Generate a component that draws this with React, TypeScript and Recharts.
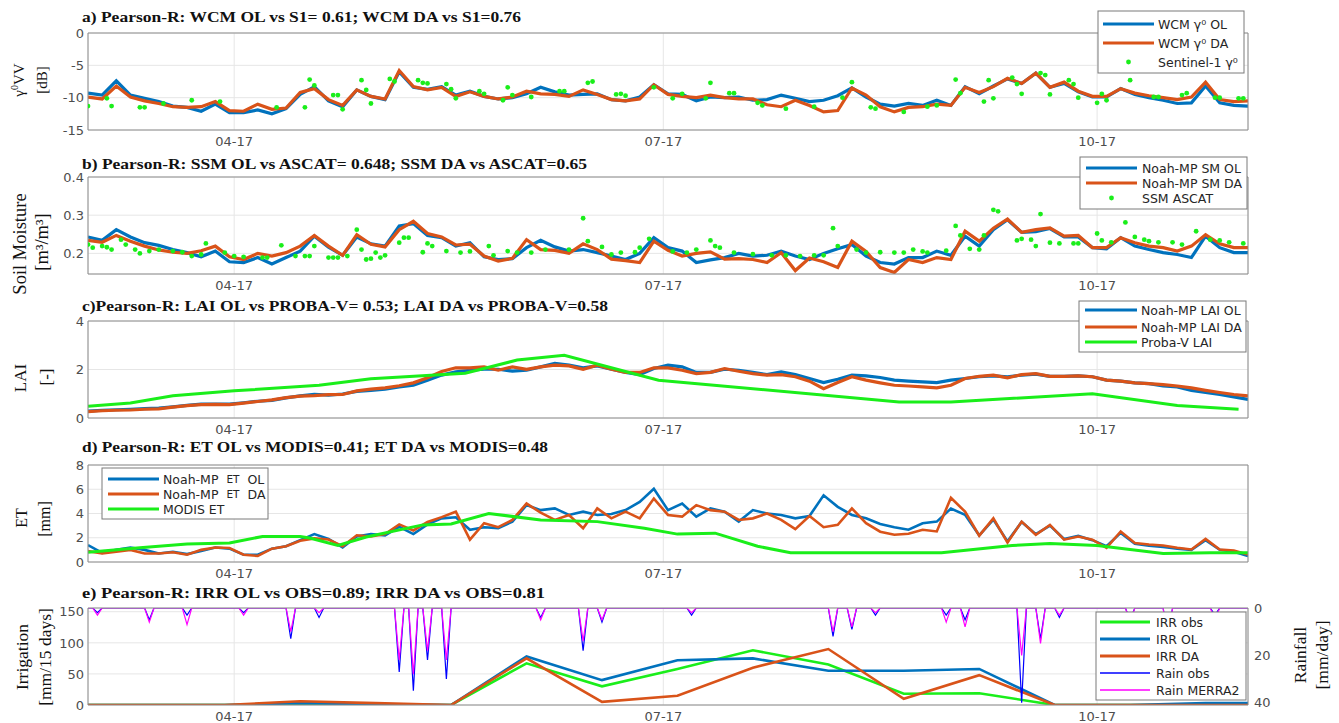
import React from 'react';
import { ComposedChart, Line, Scatter, XAxis, YAxis, CartesianGrid } from 'recharts';

// x = day of year 2017, sampled every 3 days (Mar 1 .. Nov 2)
const days = [
  60, 63, 66, 69, 72, 75, 78, 81, 84, 87, 90, 93, 96, 99, 102, 105, 108, 111, 114, 117, 120, 123, 126, 129, 132, 135,
  138, 141, 144, 147, 150, 153, 156, 159, 162, 165, 168, 171, 174, 177, 180, 183, 186, 189, 192, 195, 198, 201, 204, 207, 210, 213, 216, 219, 222, 225, 228,
  231, 234, 237, 240, 243, 246, 249, 252, 255, 258, 261, 264, 267, 270, 273, 276, 279, 282, 285, 288, 291, 294, 297, 300, 303, 306,
];

// a) backscatter [dB]
const wcmOL = [
  -9.3, -9.6, -7.4, -9.6, -10.1, -10.6, -11.3, -11.5, -12.1, -11.0, -12.3, -12.3, -11.9, -12.5, -11.7, -9.5, -8.3, -10.5, -11.4, -8.8, -9.8, -10.3, -6.0, -8.4, -8.7, -8.3,
  -9.6, -9.0, -9.8, -10.2, -10.0, -9.4, -8.4, -9.1, -9.6, -9.5, -9.4, -10.3, -10.5, -9.9, -8.0, -9.4, -9.5, -10.5, -9.9, -10.0, -9.9, -10.4, -10.3, -9.6, -10.1, -10.6, -10.4, -9.7, -8.5, -9.9, -11.0,
  -11.3, -10.9, -11.2, -10.4, -11.2, -8.3, -9.4, -8.2, -7.1, -7.8, -6.2, -8.4, -7.8, -9.1, -9.9, -9.9, -8.6, -9.5, -10.0, -10.4, -10.9, -10.8, -8.2, -10.8, -11.2, -11.3,
];
const wcmDA = [
  -9.9, -10.2, -8.2, -9.9, -10.5, -10.9, -11.4, -11.5, -11.4, -10.6, -12.0, -12.1, -11.0, -11.8, -11.6, -9.2, -8.6, -10.3, -11.2, -8.8, -9.8, -10.2, -5.8, -8.3, -8.8, -8.4,
  -9.8, -9.1, -9.8, -10.2, -9.9, -9.0, -9.4, -9.5, -9.8, -8.8, -9.5, -10.3, -10.5, -10.2, -8.0, -9.5, -9.8, -10.0, -9.6, -10.0, -10.2, -10.2, -11.1, -11.4, -10.4, -11.2, -12.2, -12.0, -8.5, -9.6, -11.4,
  -12.2, -11.5, -11.4, -11.0, -11.2, -8.4, -9.2, -8.3, -7.0, -7.8, -6.2, -8.4, -7.6, -9.0, -9.8, -9.8, -8.6, -9.3, -9.7, -10.0, -10.3, -9.9, -7.6, -10.3, -10.6, -10.5,
];
const s1Obs = [
  [60, -11.3], [64, -10.1], [65, -11.3], [71, -11.5], [72, -11.5], [76, -10.9], [82, -10.4], [88, -10.6], [100, -11.5], [106, -11.5],
  [107, -7.2], [108, -8.1], [112, -9.6], [113, -9.6], [114, -11.8], [118, -7.3], [119, -8.8], [120, -10.9], [124, -7.1], [125, -7.5],
  [130, -7.3], [131, -7.7], [132, -7.8], [136, -7.9], [137, -8.7], [138, -10.1], [143, -9.0], [144, -9.4], [148, -10.4], [149, -8.4],
  [150, -9.6], [154, -9.9], [160, -9.0], [161, -9.0], [166, -7.7], [167, -7.5], [172, -9.5], [173, -9.4], [174, -9.7], [180, -8.4],
  [184, -10.1], [186, -9.4], [191, -10.1], [192, -7.7], [196, -9.3], [197, -9.3], [202, -10.8], [203, -11.2], [208, -11.7], [214, -11.4],
  [220, -10.0], [222, -7.6], [226, -11.5], [227, -11.7], [233, -12.2], [238, -11.4], [240, -11.2], [244, -7.2], [245, -9.3], [250, -10.6],
  [251, -7.3], [252, -10.1], [256, -6.9], [257, -7.9], [258, -9.4], [262, -6.2], [263, -6.5], [264, -9.5], [268, -7.3], [269, -7.9],
  [270, -10.0], [274, -10.8], [275, -9.4], [276, -10.4], [281, -7.3], [286, -9.9], [287, -9.9], [292, -9.6], [293, -9.3], [299, -10.0],
  [300, -10.0], [304, -10.1], [305, -10.1],
];

// b) surface soil moisture [m3/m3]
const ssmOL = [
  0.243, 0.234, 0.262, 0.243, 0.228, 0.221, 0.21, 0.202, 0.191, 0.206, 0.178, 0.176, 0.189, 0.172, 0.189, 0.206, 0.245, 0.216, 0.195, 0.243, 0.225, 0.219, 0.272, 0.278, 0.247, 0.241,
  0.219, 0.228, 0.191, 0.184, 0.186, 0.215, 0.234, 0.217, 0.206, 0.21, 0.202, 0.193, 0.184, 0.2, 0.241, 0.215, 0.206, 0.176, 0.183, 0.189, 0.2, 0.193, 0.195, 0.206, 0.193, 0.184, 0.2, 0.212, 0.223, 0.193, 0.176,
  0.172, 0.189, 0.189, 0.206, 0.195, 0.245, 0.219, 0.262, 0.288, 0.255, 0.257, 0.265, 0.243, 0.243, 0.215, 0.212, 0.241, 0.219, 0.21, 0.202, 0.197, 0.189, 0.245, 0.215, 0.202, 0.202,
];
const ssmDA = [
  0.234, 0.229, 0.247, 0.232, 0.219, 0.209, 0.203, 0.2, 0.207, 0.219, 0.191, 0.184, 0.2, 0.193, 0.202, 0.219, 0.247, 0.219, 0.195, 0.249, 0.224, 0.217, 0.262, 0.284, 0.252, 0.243,
  0.222, 0.224, 0.193, 0.18, 0.187, 0.236, 0.21, 0.208, 0.2, 0.225, 0.21, 0.185, 0.181, 0.176, 0.232, 0.208, 0.193, 0.2, 0.204, 0.185, 0.186, 0.184, 0.176, 0.202, 0.155, 0.188, 0.178, 0.163, 0.232, 0.205, 0.163,
  0.15, 0.184, 0.176, 0.189, 0.184, 0.258, 0.232, 0.266, 0.29, 0.255, 0.262, 0.267, 0.245, 0.247, 0.215, 0.215, 0.241, 0.228, 0.219, 0.215, 0.206, 0.219, 0.249, 0.225, 0.215, 0.215,
];
const ascatObs = [
  [60, 0.223], [61, 0.215], [63, 0.219], [64, 0.216], [65, 0.21], [67, 0.236], [68, 0.223], [70, 0.21], [71, 0.2], [73, 0.206], [75, 0.21],
  [78, 0.206], [80, 0.203], [82, 0.193], [84, 0.197], [85, 0.226], [89, 0.202], [91, 0.193], [93, 0.191], [97, 0.189], [98, 0.189],
  [101, 0.221], [104, 0.193], [106, 0.193], [107, 0.193], [108, 0.219], [111, 0.189], [112, 0.189], [113, 0.189], [115, 0.193], [117, 0.262],
  [118, 0.21], [119, 0.184], [120, 0.186], [121, 0.202], [122, 0.189], [123, 0.195], [126, 0.228], [127, 0.241], [128, 0.241], [131, 0.203],
  [132, 0.226], [133, 0.219], [136, 0.206], [139, 0.202], [141, 0.205], [145, 0.219], [146, 0.195], [149, 0.206], [151, 0.202], [154, 0.202],
  [157, 0.21], [162, 0.21], [165, 0.292], [166, 0.232], [169, 0.217], [171, 0.197], [173, 0.202], [176, 0.203], [177, 0.215], [179, 0.238],
  [184, 0.205], [187, 0.202], [189, 0.21], [192, 0.234], [193, 0.219], [194, 0.215], [197, 0.202], [201, 0.198], [205, 0.195], [208, 0.195],
  [211, 0.193], [214, 0.195], [216, 0.195], [218, 0.266], [219, 0.219], [223, 0.21], [225, 0.202], [228, 0.203], [231, 0.202], [233, 0.202],
  [235, 0.21], [237, 0.205], [238, 0.202], [242, 0.207], [244, 0.272], [245, 0.247], [247, 0.212], [249, 0.21], [250, 0.247], [252, 0.314],
  [253, 0.31], [257, 0.234], [258, 0.238], [260, 0.236], [261, 0.219], [262, 0.303], [264, 0.228], [266, 0.226], [269, 0.226], [270, 0.226],
  [274, 0.252], [275, 0.234], [277, 0.229], [280, 0.281], [282, 0.243], [284, 0.236], [285, 0.232], [287, 0.229], [290, 0.229], [292, 0.223],
  [295, 0.258], [298, 0.236], [300, 0.234], [302, 0.229], [305, 0.226],
];

// c) LAI
const laiOL = [
  0.28, 0.32, 0.34, 0.36, 0.39, 0.41, 0.46, 0.52, 0.57, 0.57, 0.57, 0.63, 0.69, 0.73, 0.83, 0.91, 0.98, 0.94, 0.99, 1.1, 1.14, 1.19, 1.28, 1.35, 1.56, 1.77,
  1.9, 1.97, 2.01, 2.01, 1.93, 1.97, 2.11, 2.25, 2.18, 2.07, 2.15, 2.01, 1.88, 1.79, 2.04, 2.18, 2.11, 1.88, 1.88, 2.01, 1.97, 1.88, 1.79, 1.9, 1.79, 1.63, 1.46, 1.6, 1.77, 1.74, 1.67,
  1.56, 1.52, 1.49, 1.46, 1.56, 1.63, 1.7, 1.74, 1.7, 1.77, 1.81, 1.72, 1.72, 1.74, 1.7, 1.56, 1.52, 1.45, 1.42, 1.32, 1.28, 1.14, 1.05, 0.97, 0.87, 0.77,
];
const laiDA = [
  0.26, 0.3, 0.32, 0.33, 0.36, 0.38, 0.45, 0.51, 0.55, 0.56, 0.55, 0.61, 0.68, 0.75, 0.84, 0.9, 0.92, 0.96, 0.97, 1.12, 1.19, 1.24, 1.33, 1.45, 1.66, 1.92,
  2.07, 2.07, 2.11, 1.97, 2.11, 2.01, 2.11, 2.18, 2.15, 2.01, 2.18, 2.01, 1.88, 1.88, 2.07, 2.07, 1.97, 1.83, 1.88, 2.04, 1.93, 1.83, 1.77, 1.79, 1.7, 1.52, 1.21, 1.46, 1.7, 1.56, 1.45,
  1.35, 1.32, 1.28, 1.24, 1.35, 1.63, 1.72, 1.77, 1.66, 1.79, 1.83, 1.72, 1.72, 1.74, 1.7, 1.56, 1.52, 1.45, 1.42, 1.38, 1.32, 1.24, 1.14, 1.05, 0.97, 0.91,
];
const probaDays = [60, 69, 78, 91, 109, 120, 140, 151, 161, 181, 232, 243, 273, 291, 304];
const probaLai = [0.48, 0.62, 0.92, 1.12, 1.35, 1.62, 1.85, 2.39, 2.59, 1.56, 0.66, 0.66, 1.0, 0.52, 0.36];

// d) ET [mm]
const etOL = [
  1.4, 0.75, 1.0, 1.2, 1.0, 0.7, 0.85, 0.65, 0.9, 1.2, 1.1, 0.6, 0.6, 1.1, 1.3, 1.8, 2.3, 1.9, 1.2, 2.1, 2.3, 2.2, 2.9, 2.3, 3.1, 3.6,
  3.69, 2.66, 2.87, 2.79, 3.33, 4.69, 4.28, 4.42, 3.88, 4.15, 3.88, 3.96, 4.28, 4.96, 6.04, 4.28, 4.82, 3.74, 4.42, 4.15, 3.33, 4.28, 4.0, 3.88, 3.6, 3.79, 5.5, 4.55, 3.88, 3.6, 3.14,
  2.87, 2.66, 3.2, 3.33, 4.4, 3.9, 2.2, 3.5, 1.7, 3.3, 2.3, 3.0, 1.9, 2.15, 1.8, 1.3, 2.4, 1.5, 1.35, 1.25, 1.1, 1.0, 1.8, 1.0, 0.85, 0.5,
];
const etDA = [
  0.9, 0.7, 0.85, 1.0, 0.7, 0.7, 0.8, 0.6, 1.0, 1.2, 1.15, 0.6, 0.5, 1.1, 1.3, 1.75, 1.95, 1.85, 1.3, 2.2, 2.1, 2.3, 3.1, 2.6, 3.3, 3.7,
  4.15, 1.84, 3.2, 2.87, 3.47, 4.82, 4.07, 3.47, 3.88, 2.79, 4.42, 3.6, 4.15, 3.6, 5.23, 3.88, 3.74, 4.69, 4.28, 4.15, 3.47, 3.6, 4.0, 3.47, 2.71, 3.79, 2.87, 3.06, 4.42, 3.2, 2.5,
  2.25, 2.33, 2.66, 2.52, 5.3, 4.15, 2.17, 3.6, 1.6, 3.33, 2.25, 3.06, 1.84, 2.1, 1.84, 1.17, 2.52, 1.57, 1.44, 1.36, 1.17, 1.03, 1.9, 1.03, 0.95, 0.62,
];
const modisDays = [60, 71, 81, 90, 97, 105, 107, 113, 119, 131, 137, 145, 156, 168, 178, 185, 193, 202, 209, 241, 256, 264, 274, 288, 298, 306];
const modisEt = [0.81, 1.17, 1.49, 1.57, 2.11, 2.11, 1.98, 1.36, 2.06, 3.06, 3.14, 4.0, 3.47, 3.33, 2.79, 2.3, 2.38, 1.3, 0.76, 0.76, 1.36, 1.52, 1.36, 0.7, 0.76, 0.76];

// e) irrigation [mm/15 days] and rainfall [mm/day]
const irrDays = [60, 73, 89, 105, 121, 137, 153, 169, 185, 201, 217, 233, 249, 265, 281, 297, 306];
const irrObs = [0, 0, 0, 0, 0, 0, 67, 30, 58, 88, 65, 18, 19, 0, 0, 0, 0];
const irrOL = [0, 0, 0, 3, 1, 0, 78, 40, 72, 75, 55, 55, 58, 0, 0, 3, 3];
const irrDA = [0, 0, 0, 6, 3, 0, 75, 5, 15, 60, 90, 10, 48, 0, 0, 0, 0];
const rainDays = [62, 73, 81, 93, 103, 109, 126, 129, 132, 136, 156, 165, 169, 188, 218, 222, 227, 242, 246, 258, 262, 266, 281, 289, 299];
const rainObs = [2, 5, 3, 2, 13, 4, 27, 35, 22, 30, 4, 18, 6, 3, 12, 9, 3, 3, 5, 40, 13, 4, 5, 12, 3];
const rainMerra = [3, 6, 7, 3, 10, 2, 22, 28, 18, 22, 5, 14, 5, 2, 10, 8, 2, 6, 8, 20, 15, 3, 6, 15, 5];

const xTicks = [91, 182, 274];
const xLabels = ['04-17', '07-17', '10-17'];
const titles = [
  'a) Pearson-R: WCM OL vs S1= 0.61; WCM DA vs S1=0.76',
  'b) Pearson-R: SSM OL vs ASCAT= 0.648; SSM DA vs ASCAT=0.65',
  'c)Pearson-R: LAI OL vs PROBA-V= 0.53; LAI DA vs PROBA-V=0.58',
  'd) Pearson-R: ET OL vs MODIS=0.41; ET DA vs MODIS=0.48',
  'e) Pearson-R: IRR OL vs OBS=0.89; IRR DA vs OBS=0.81',
];

const W = 1339;
const PL = 88;
const PR = 1248;
const PH = 97;
const MT = 10;
const XH = 25;
const YW = 50;
const XDOM: [number, number] = [60, 306];

const BLUE = '#0072bd';
const ORANGE = '#d95319';
const GREEN = '#1aee1a';
const RAIN = '#0000ff';
const MERRA = '#ff00ff';
const AXIS = '#8c8c8c';
const GRID = '#e6e6e6';
const TXT = '#4d4d4d';
const SANS = '"DejaVu Sans", sans-serif';
const SERIF = '"Liberation Serif", "Times New Roman", serif';

const series = (xs: number[], ys: number[]) => xs.map((d, i) => ({ d, v: ys[i] }));
const pts = (arr: number[][]) => arr.map(([d, v]) => ({ d, v }));
// daily rain: zero on the days either side of each rain day
const spikes = (vals: number[]) => {
  const out = [{ d: XDOM[0], v: 0 }];
  rainDays.forEach((d, i) => {
    out.push({ d: d - 1, v: 0 }, { d, v: vals[i] }, { d: d + 1, v: 0 });
  });
  out.push({ d: XDOM[1], v: 0 });
  return out;
};

const XTick = (p: any) => (
  <text x={p.x} y={p.y} dy="0.71em" textAnchor="middle" fontSize={13} fontFamily={SANS} fill={TXT}>
    {xLabels[xTicks.indexOf(p.payload.value)]}
  </text>
);
const YTickL = (p: any) => (
  <text x={p.x} y={p.y} dy="0.36em" textAnchor="end" fontSize={13} fontFamily={SANS} fill={TXT}>
    {String(p.payload.value)}
  </text>
);
const YTickR = (p: any) => (
  <text x={p.x} y={p.y} dy="0.36em" textAnchor="start" fontSize={13} fontFamily={SANS} fill={TXT}>
    {String(p.payload.value)}
  </text>
);
const GreenDot = (p: any) => <circle cx={p.cx} cy={p.cy} r={2.4} fill={GREEN} />;

type Ax = { dom: [number, number]; ticks: number[] };

function frame(left: Ax, right?: Ax) {
  const r = right || left;
  const els = [
    <CartesianGrid key="grid" xAxisId="x" yAxisId="y" stroke={GRID} />,
    <XAxis key="x" xAxisId="x" dataKey="d" type="number" domain={XDOM} ticks={xTicks} interval={0} allowDataOverflow
      height={XH} tickLine={false} tickSize={0} tickMargin={7} axisLine={{ stroke: AXIS }} tick={XTick} />,
    <XAxis key="xt" xAxisId="xt" dataKey="d" type="number" domain={XDOM} ticks={xTicks} interval={0} allowDataOverflow
      orientation="top" mirror tick={false} tickSize={10} tickLine={{ stroke: AXIS }} axisLine={{ stroke: AXIS }} />,
    <XAxis key="xb" xAxisId="xb" dataKey="d" type="number" domain={XDOM} ticks={xTicks} interval={0} allowDataOverflow
      orientation="bottom" mirror tick={false} tickSize={10} tickLine={{ stroke: AXIS }} axisLine={false} />,
    <YAxis key="y" yAxisId="y" type="number" domain={left.dom} ticks={left.ticks} interval={0} allowDataOverflow
      width={YW} tickLine={false} tickSize={0} tickMargin={4} axisLine={{ stroke: AXIS }} tick={YTickL} />,
    <YAxis key="yl" yAxisId="yl" type="number" domain={left.dom} ticks={left.ticks} interval={0} allowDataOverflow
      orientation="left" mirror tick={false} tickSize={10} tickLine={{ stroke: AXIS }} axisLine={false} />,
    <YAxis key="yr" yAxisId="yr" type="number" domain={r.dom} ticks={r.ticks} interval={0} allowDataOverflow reversed={!!right}
      orientation="right" mirror tick={false} tickSize={10} tickLine={{ stroke: AXIS }} axisLine={{ stroke: AXIS }} />,
  ];
  if (right) {
    els.push(
      <YAxis key="r" yAxisId="r" type="number" domain={right.dom} ticks={right.ticks} interval={0} allowDataOverflow reversed
        orientation="right" width={40} tickLine={false} tickSize={0} tickMargin={6} axisLine={false} tick={YTickR} />
    );
  }
  return els;
}

function Panel({ top, rightW = 0, children }: { top: number; rightW?: number; children: React.ReactNode }) {
  return (
    <div style={{ position: 'absolute', left: 0, top: top - MT }}>
      <ComposedChart width={W} height={MT + PH + XH}
        margin={{ top: MT, right: W - PR - rightW, bottom: 0, left: PL - YW }}>
        {children}
      </ComposedChart>
    </div>
  );
}

const line = (key: string, data: any[], color: string, w: number, yId = 'y') => (
  <Line key={key} xAxisId="x" yAxisId={yId} data={data} dataKey="v" type="linear" stroke={color}
    strokeWidth={w} dot={false} activeDot={false} isAnimationActive={false} />
);
const dots = (key: string, data: any[]) => (
  <Scatter key={key} xAxisId="x" yAxisId="y" data={data} dataKey="v" shape={GreenDot} isAnimationActive={false} />
);

function YLabel({ x, y, size, children }: { x: number; y: number; size: number; children: React.ReactNode }) {
  return (
    <text transform={`translate(${x},${y}) rotate(-90)`} textAnchor="middle" dominantBaseline="central"
      fontFamily={SERIF} fontSize={size} fill="#111">
      {children}
    </text>
  );
}

type Row = { y: number; color: string; w?: number; dot?: boolean; label: React.ReactNode };
function LegendBox({ x, y, w, h, lx1, lx2, tx, rows }: { x: number; y: number; w: number; h: number; lx1: number; lx2: number; tx: number; rows: Row[] }) {
  return (
    <g>
      <rect x={x} y={y} width={w} height={h} fill="#fff" stroke="#7a7a7a" strokeWidth={1} />
      {rows.map((r, i) => (
        <g key={i}>
          {r.dot
            ? <circle cx={(lx1 + lx2) / 2} cy={r.y} r={2.4} fill={r.color} />
            : <line x1={lx1} x2={lx2} y1={r.y} y2={r.y} stroke={r.color} strokeWidth={r.w || 3.2} />}
          <text x={tx} y={r.y} dominantBaseline="central" fontFamily={SANS} fontSize={12.5} fill="#262626">{r.label}</text>
        </g>
      ))}
    </g>
  );
}

function Overlay() {
  const tp = { x: 82, fontFamily: SERIF, fontWeight: 700, fontSize: 15.5, fill: '#111', lengthAdjust: 'spacingAndGlyphs' as const };
  return (
    <svg width={W} height={723} style={{ position: 'absolute', left: 0, top: 0, pointerEvents: 'none' }}>
      <text {...tp} y={22} textLength={439}>{titles[0]}</text>
      <text {...tp} y={169} textLength={505}>{titles[1]}</text>
      <text {...tp} y={311} textLength={526}>{titles[2]}</text>
      <text {...tp} y={452} textLength={466}>{titles[3]}</text>
      <text {...tp} y={598} textLength={463}>{titles[4]}</text>

      <YLabel x={19} y={80} size={15}>γ<tspan dy={-5} fontSize={10}>0</tspan><tspan dy={5}>VV</tspan></YLabel>
      <YLabel x={42} y={80} size={15}>[dB]</YLabel>
      <YLabel x={20} y={244} size={18.5}>Soil Moisture</YLabel>
      <YLabel x={42} y={242} size={18.5}>[m³/m³]</YLabel>
      <YLabel x={20} y={378} size={17}>LAI</YLabel>
      <YLabel x={46} y={377} size={17}>[-]</YLabel>
      <YLabel x={21} y={518} size={16}>ET</YLabel>
      <YLabel x={44} y={519} size={16}>[mm]</YLabel>
      <YLabel x={22} y={657} size={17.5}>Irrigation</YLabel>
      <YLabel x={45} y={657} size={17.5}>[mm/15 days]</YLabel>
      <YLabel x={1300} y={655} size={17.5}>Rainfall</YLabel>
      <YLabel x={1322} y={655} size={17.5}>[mm/day]</YLabel>

      <LegendBox x={1098} y={11} w={146} h={62} lx1={1103} lx2={1154} tx={1158} rows={[
        { y: 24, color: BLUE, label: 'WCM γ⁰ OL' },
        { y: 43, color: ORANGE, label: 'WCM γ⁰ DA' },
        { y: 62, color: GREEN, dot: true, label: 'Sentinel-1 γ⁰' },
      ]} />
      <LegendBox x={1080} y={157} w={167} h={52} lx1={1086} lx2={1137} tx={1142} rows={[
        { y: 168, color: BLUE, label: 'Noah-MP SM OL' },
        { y: 183, color: ORANGE, label: 'Noah-MP SM DA' },
        { y: 198, color: GREEN, dot: true, label: 'SSM ASCAT' },
      ]} />
      <LegendBox x={1079} y={301} w={167} h={51} lx1={1085} lx2={1137} tx={1141} rows={[
        { y: 310, color: BLUE, label: 'Noah-MP LAI OL' },
        { y: 327, color: ORANGE, label: 'Noah-MP LAI DA' },
        { y: 342, color: GREEN, label: 'Proba-V LAI' },
      ]} />
      <LegendBox x={102} y={468} w={166} h={51} lx1={108} lx2={159} tx={163} rows={[
        { y: 479, color: BLUE, label: <>Noah-MP<tspan dx={8} fontSize={10.5}>ET</tspan><tspan dx={8}>OL</tspan></> },
        { y: 494, color: ORANGE, label: <>Noah-MP<tspan dx={8} fontSize={10.5}>ET</tspan><tspan dx={8}>DA</tspan></> },
        { y: 509, color: GREEN, label: 'MODIS ET' },
      ]} />
      <LegendBox x={1096} y={612} w={150} h={88} lx1={1100} lx2={1150} tx={1156} rows={[
        { y: 622, color: GREEN, w: 3, label: 'IRR obs' },
        { y: 639, color: BLUE, w: 3, label: 'IRR OL' },
        { y: 656, color: ORANGE, w: 3, label: 'IRR DA' },
        { y: 673, color: RAIN, w: 1.5, label: 'Rain obs' },
        { y: 690, color: MERRA, w: 1.5, label: 'Rain MERRA2' },
      ]} />
    </svg>
  );
}

export default function App() {
  return (
    <div style={{ position: 'absolute', left: 0, top: 0, width: W, height: 723, background: '#fff', overflow: 'hidden' }}>
      <Panel top={33}>
        {frame({ dom: [-15, 0], ticks: [-15, -10, -5, 0] })}
        {line('ol', series(days, wcmOL), BLUE, 3.2)}
        {line('da', series(days, wcmDA), ORANGE, 3.2)}
        {dots('s1', pts(s1Obs))}
      </Panel>
      <Panel top={177}>
        {frame({ dom: [0.146, 0.4], ticks: [0.2, 0.3, 0.4] })}
        {line('ol', series(days, ssmOL), BLUE, 3.2)}
        {line('da', series(days, ssmDA), ORANGE, 3.2)}
        {dots('asc', pts(ascatObs))}
      </Panel>
      <Panel top={321}>
        {frame({ dom: [0, 4], ticks: [0, 2, 4] })}
        {line('ol', series(days, laiOL), BLUE, 3.2)}
        {line('da', series(days, laiDA), ORANGE, 3.2)}
        {line('pv', series(probaDays, probaLai), GREEN, 3)}
      </Panel>
      <Panel top={465}>
        {frame({ dom: [0, 8], ticks: [0, 2, 4, 6, 8] })}
        {line('ol', series(days, etOL), BLUE, 2.6)}
        {line('da', series(days, etDA), ORANGE, 2.6)}
        {line('md', series(modisDays, modisEt), GREEN, 3)}
      </Panel>
      <Panel top={608} rightW={40}>
        {frame({ dom: [0, 156], ticks: [0, 50, 100, 150] }, { dom: [0, 41], ticks: [0, 20, 40] })}
        {line('io', series(irrDays, irrObs), GREEN, 2.6)}
        {line('iol', series(irrDays, irrOL), BLUE, 2.6)}
        {line('ida', series(irrDays, irrDA), ORANGE, 2.6)}
        {line('ro', spikes(rainObs), RAIN, 1.2, 'r')}
        {line('rm', spikes(rainMerra), MERRA, 1.2, 'r')}
      </Panel>
      <Overlay />
    </div>
  );
}
